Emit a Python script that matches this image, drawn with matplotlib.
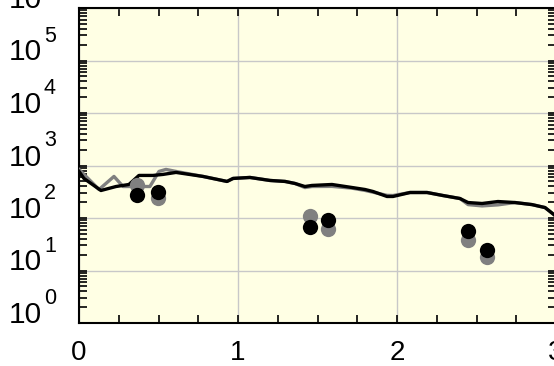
import matplotlib
matplotlib.use('Agg')
import matplotlib.pyplot as plt
from matplotlib.ticker import FixedLocator, LogLocator, NullFormatter, MultipleLocator
from matplotlib.transforms import offset_copy

plt.rcParams['font.family'] = ['Liberation Sans', 'DejaVu Sans']

# ---- data ----
black_x = [0.000, 0.031, 0.138, 0.233, 0.314, 0.377, 0.465, 0.528, 0.610, 0.780,
           0.931, 0.969, 1.075, 1.201, 1.296, 1.358, 1.421, 1.465, 1.591, 1.717,
           1.799, 1.849, 1.937, 1.975, 2.082, 2.189, 2.289, 2.396, 2.447, 2.535,
           2.635, 2.742, 2.849, 2.931, 3.000]
black_y = [771, 567, 334, 398, 435, 647, 647, 676, 738, 619,
           497, 567, 592, 519, 497, 455, 398, 417, 435, 381,
           349, 320, 257, 257, 306, 306, 268, 235, 197, 189,
           206, 197, 180, 158, 108]

gray_x = [0.000, 0.126, 0.220, 0.277, 0.340, 0.446, 0.503, 0.547, 0.610, 0.780,
          0.931, 0.969, 1.075, 1.201, 1.296, 1.358, 1.421, 1.465, 1.591, 1.717,
          1.799, 1.849, 1.937, 1.975, 2.082, 2.189, 2.289, 2.396, 2.447, 2.535,
          2.635, 2.742, 2.849, 2.931, 3.000]
gray_y = [842, 349, 619, 398, 398, 398, 771, 842, 771, 619,
          497, 567, 592, 519, 497, 455, 380, 398, 400, 370,
          335, 310, 270, 268, 306, 306, 268, 235, 180, 170,
          178, 197, 180, 158, 108]

dot_x = [0.365, 0.495, 1.453, 1.566, 2.447, 2.566]
gray_dot_y = [417, 245, 111, 63, 38, 18]
black_dot_y = [280, 318, 68, 93, 57, 25]

x_ticks = [0, 1, 2, 3]
x_tick_labels = ['0', '1', '2', '3']
y_ticks = [1, 10, 100, 1000, 1e4, 1e5, 1e6]
y_tick_base = ['10', '10', '10', '10', '10', '10', '10']
y_tick_exp = ['0', '1', '2', '3', '4', '5', '6']

# ---- figure ----
fig = plt.figure(figsize=(5.54, 3.66), dpi=100)
ax = fig.add_axes([79 / 554, 43 / 366, 477 / 554, 315 / 366])
ax.set_facecolor('#ffffe4')

ax.plot(gray_x, gray_y, color='#808080', lw=2.4, zorder=3)
ax.plot(black_x, black_y, color='#000000', lw=2.4, zorder=4)
ax.plot(dot_x, gray_dot_y, 'o', color='#808080', ms=11, mew=0, zorder=5)
ax.plot(dot_x, black_dot_y, 'o', color='#000000', ms=11, mew=0, zorder=6)

ax.set_yscale('log')
ax.set_xlim(0, 3)
ax.set_ylim(1, 1e6)

ax.set_xticks(x_ticks)
ax.set_xticklabels(x_tick_labels)
ax.xaxis.set_minor_locator(MultipleLocator(0.25))
ax.yaxis.set_major_locator(FixedLocator(y_ticks))
ax.yaxis.set_minor_locator(LogLocator(base=10, subs=range(2, 10), numticks=20))
ax.yaxis.set_minor_formatter(NullFormatter())

ax.grid(True, which='major', color='#c8c8c8', lw=1.0, zorder=1)
ax.set_axisbelow(True)

ax.tick_params(which='both', direction='in', top=True, right=True,
               length=6, width=1.2, color='black')
ax.tick_params(axis='x', which='major', labelsize=20, pad=12)
ax.tick_params(axis='y', which='both', labelleft=False)

# y tick labels: "10" with raised exponent, baseline on the tick
base_tr = offset_copy(ax.get_yaxis_transform(), fig=fig, x=-37, y=0, units='dots')
exp_tr = offset_copy(ax.get_yaxis_transform(), fig=fig, x=-35, y=19, units='dots')
for yv, b, e in zip(y_ticks, y_tick_base, y_tick_exp):
    ax.text(0, yv, b, transform=base_tr, fontsize=21.5, ha='right', va='baseline',
            clip_on=False)
    ax.text(0, yv, e, transform=exp_tr, fontsize=15.5, ha='left', va='baseline',
            clip_on=False)

for s in ax.spines.values():
    s.set_linewidth(1.5)
    s.set_color('black')

fig.savefig('out.png', dpi=100)
